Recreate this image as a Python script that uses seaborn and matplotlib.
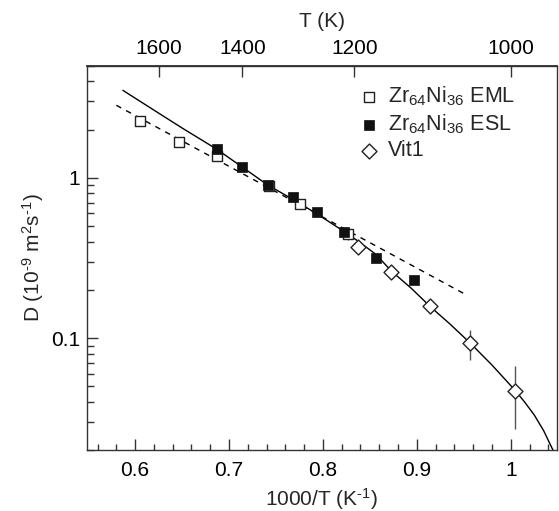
import numpy as np
import pandas as pd
import matplotlib
matplotlib.use("Agg")
import matplotlib.pyplot as plt
import seaborn as sns
from matplotlib.ticker import FixedLocator, MultipleLocator, NullFormatter, NullLocator

# data (x = 1000/T in 1/K, D in 1e-9 m^2/s)
eml_x = [0.605, 0.647, 0.687, 0.743, 0.776, 0.827]
eml_d = [2.26, 1.67, 1.37, 0.89, 0.69, 0.45]
eml_err = [0.10, 0.06, 0.05, 0.03, 0.03, 0.04]

esl_x = [0.687, 0.714, 0.741, 0.768, 0.794, 0.822, 0.856, 0.897]
esl_d = [1.51, 1.17, 0.905, 0.76, 0.61, 0.46, 0.315, 0.232]

vit_x = [0.837, 0.873, 0.914, 0.957, 1.005]
vit_d = [0.373, 0.257, 0.158, 0.093, 0.047]
vit_err = [0.012, 0.008, 0.006, 0.02, 0.02]

# solid fit curve, points traced along it
fit_x = [0.587, 0.62, 0.65, 0.687, 0.714, 0.741, 0.768, 0.794, 0.822, 0.837,
         0.856, 0.873, 0.894, 0.914, 0.935, 0.957, 0.98, 1.005, 1.015, 1.025,
         1.035, 1.045]
fit_d = [3.52, 2.65, 2.05, 1.51, 1.17, 0.905, 0.735, 0.595, 0.465, 0.405,
         0.335, 0.262, 0.205, 0.158, 0.123, 0.093, 0.068, 0.047, 0.0398, 0.0332,
         0.0265, 0.020]

# dashed Arrhenius line
arr_x = [0.580, 0.950]
arr_d = [2.84, 0.19]

sns.set_theme(style="ticks")
plt.rcParams['font.family'] = ['Liberation Sans', 'DejaVu Sans']
plt.rcParams['mathtext.fontset'] = 'custom'
plt.rcParams['mathtext.rm'] = 'Liberation Sans'
plt.rcParams['mathtext.it'] = 'Liberation Sans:italic'

FS = 15

fig = plt.figure(figsize=(5.59, 5.11), dpi=100)
ax = fig.add_axes([0.156, 0.119, 0.84, 0.752])

fit_df = pd.DataFrame({"x": fit_x, "D": fit_d})
arr_df = pd.DataFrame({"x": arr_x, "D": arr_d})
sns.lineplot(data=fit_df, x="x", y="D", ax=ax, color="black", lw=1.0, sort=False)
sns.lineplot(data=arr_df, x="x", y="D", ax=ax, color="black", lw=1.0, ls=(0, (4, 4)), sort=False)

ax.errorbar(eml_x, eml_d, yerr=eml_err, fmt="none", ecolor="#444444", elinewidth=1.0)
ax.errorbar(vit_x, vit_d, yerr=vit_err, fmt="none", ecolor="#555555", elinewidth=1.0)

sns.scatterplot(x=eml_x, y=eml_d, ax=ax, marker="s", s=42, facecolor="white",
                edgecolor="#222222", linewidth=1.0, label=r"Zr$_{64}$Ni$_{36}$ EML", zorder=3)
sns.scatterplot(x=esl_x, y=esl_d, ax=ax, marker="s", s=58, color="#111111",
                edgecolor="#111111", linewidth=0.5, label=r"Zr$_{64}$Ni$_{36}$ ESL", zorder=4)
sns.scatterplot(x=vit_x, y=vit_d, ax=ax, marker="D", s=58, facecolor="white",
                edgecolor="#222222", linewidth=1.0, label="Vit1", zorder=3)

ax.set_yscale("log")
ax.set_xlim(0.549, 1.049)
ax.set_ylim(0.02, 5)

ax.xaxis.set_major_locator(MultipleLocator(0.1))
ax.xaxis.set_minor_locator(MultipleLocator(0.02))
ax.xaxis.set_major_formatter(plt.FuncFormatter(lambda v, p: f"{v:g}"))
ax.yaxis.set_major_locator(FixedLocator([0.1, 1]))
ax.yaxis.set_major_formatter(plt.FuncFormatter(lambda v, p: f"{v:g}"))
ax.yaxis.set_minor_locator(FixedLocator([k * 10.0 ** e for e in (-2, -1, 0) for k in range(2, 10)]))
ax.yaxis.set_minor_formatter(NullFormatter())

ax.tick_params(axis="both", which="both", direction="in", colors="#333333",
               labelcolor="black", labelsize=FS, width=1.0)
ax.tick_params(axis="both", which="major", length=8)
ax.tick_params(axis="x", which="minor", length=4)
ax.tick_params(axis="y", which="minor", length=5)
ax.tick_params(axis="x", pad=8)
ax.tick_params(axis="y", pad=5)
for sp in ax.spines.values():
    sp.set_color("#333333")
    sp.set_linewidth(1.0)

ax.set_xlabel("1000/T (K$^{\u20101}$)", fontsize=FS, labelpad=4)
ax.set_ylabel("D (10$^{\u20109}$ m$^2$s$^{\u20101}$)", fontsize=FS, labelpad=4)

top = ax.secondary_xaxis("top", functions=(lambda x: 1000.0 / np.where(x == 0, 1e-9, x),
                                           lambda t: 1000.0 / np.where(t == 0, 1e-9, t)))
top.xaxis.set_major_locator(FixedLocator([1600, 1400, 1200, 1000]))
top.xaxis.set_minor_locator(NullLocator())
top.tick_params(direction="in", length=8, width=1.0, colors="#333333",
                labelcolor="black", labelsize=FS, pad=6)
top.set_xlabel("T (K)", fontsize=FS, labelpad=8)

ax.legend(loc="upper right", bbox_to_anchor=(0.935, 0.98), frameon=False, fontsize=15.5,
          handletextpad=0.4, labelspacing=0.2, borderpad=0, handlelength=1.0)

fig.savefig("out.png", dpi=100)
